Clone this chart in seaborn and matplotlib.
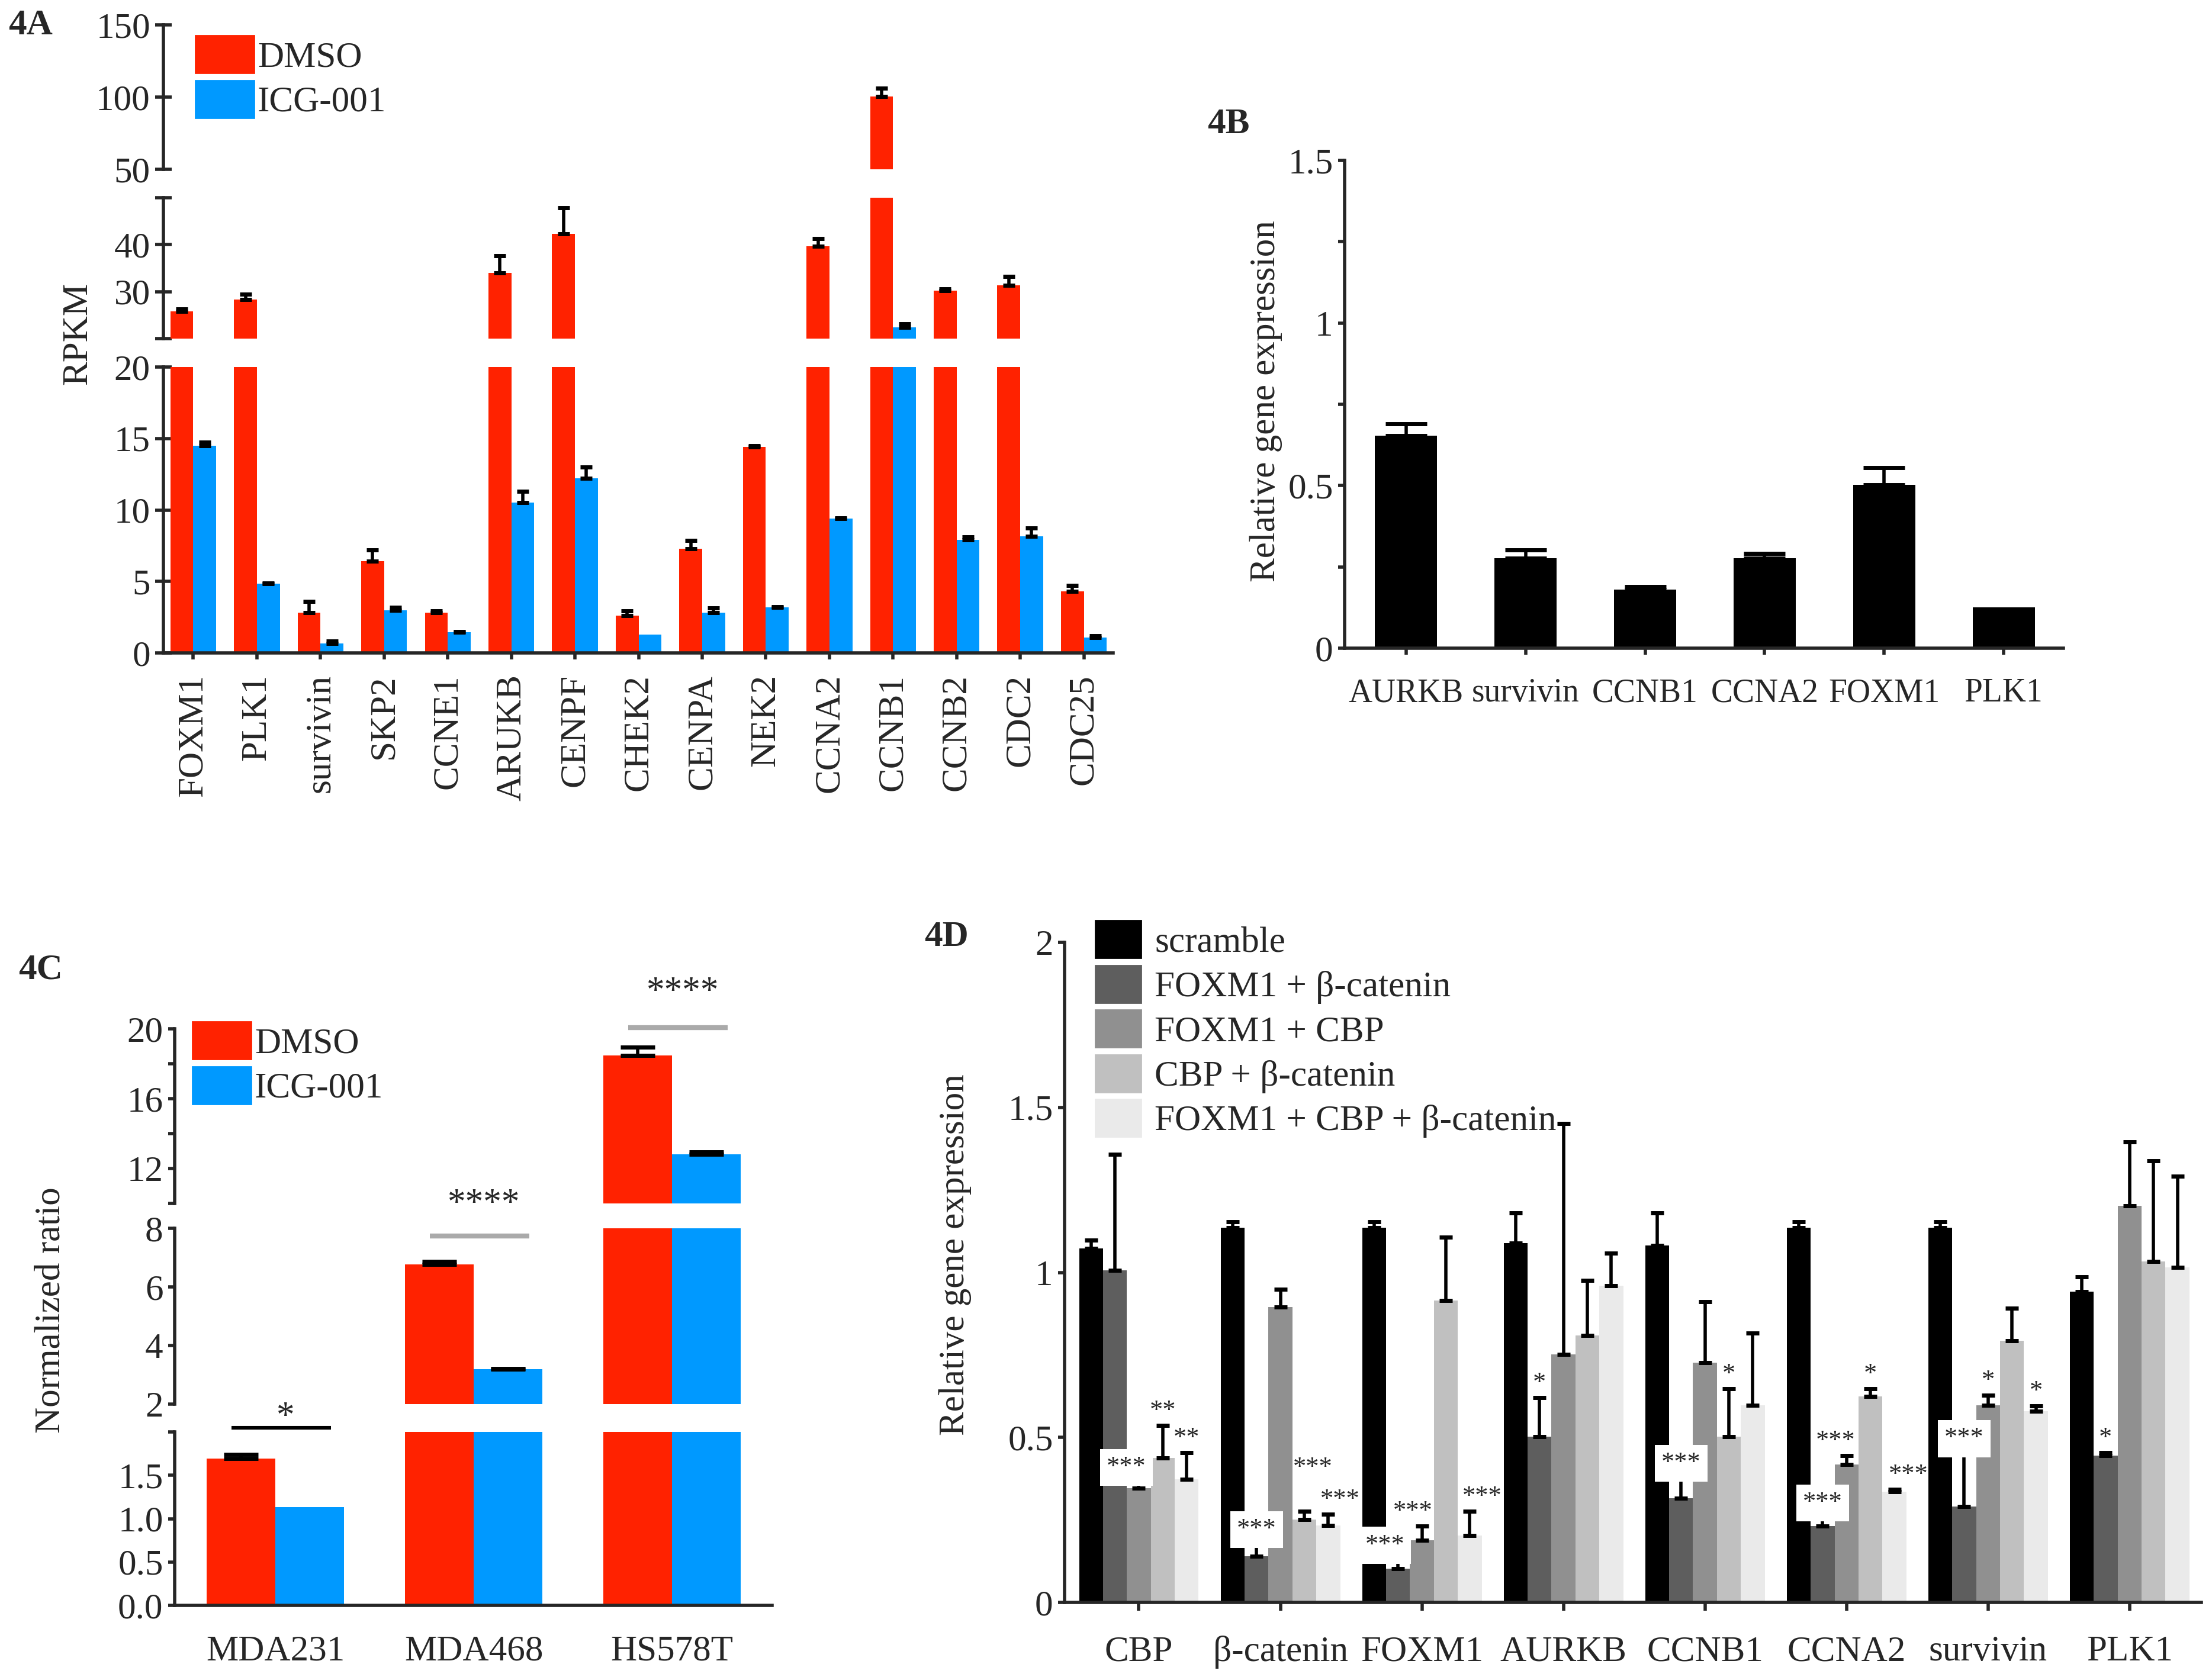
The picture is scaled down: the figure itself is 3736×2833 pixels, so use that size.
"""
Figure 4 re-draw: RPKM (4A), relative expression (4B), normalized ratio (4C),
knockdown qPCR (4D)
"""
import numpy as np
import pandas as pd
import matplotlib
matplotlib.use("Agg")
import matplotlib.pyplot as plt
from matplotlib.patches import Patch
import seaborn as sns

# ---- 4A: RNA-seq RPKM ----
A_GENES = ["FOXM1", "PLK1", "survivin", "SKP2", "CCNE1", "ARUKB", "CENPF", "CHEK2",
           "CENPA", "NEK2", "CCNA2", "CCNB1", "CCNB2", "CDC2", "CDC25"]
A_DMSO = [25.8, 28.3, 2.8, 6.4, 2.8, 34.0, 42.3, 2.6, 7.3, 14.4, 39.7, 100.6, 30.2, 31.4, 4.3]
A_DMSO_ERR = [0.5, 1.1, 0.8, 0.8, 0.15, 3.6, 5.5, 0.35, 0.55, 0.1, 1.6, 5.5, 0.4, 1.8, 0.4]
A_ICG = [14.5, 4.85, 0.67, 3.0, 1.45, 10.5, 12.2, 1.3, 2.8, 3.2, 9.4, 22.4, 7.9, 8.15, 1.06]
A_ICG_ERR = [0.25, 0.05, 0.15, 0.2, 0.05, 0.8, 0.8, 0.0, 0.35, 0.05, 0.05, 0.7, 0.2, 0.6, 0.15]

# ---- 4B ----
B_GENES = ["AURKB", "survivin", "CCNB1", "CCNA2", "FOXM1", "PLK1"]
B_VALS = [0.653, 0.277, 0.181, 0.277, 0.503, 0.125]
B_ERR = [0.037, 0.025, 0.009, 0.015, 0.053, 0.0]

# ---- 4C ----
C_LINES = ["MDA231", "MDA468", "HS578T"]
C_DMSO = [1.69, 6.77, 18.47]
C_DMSO_ERR = [0.05, 0.09, 0.47]
C_ICG = [1.13, 3.19, 12.81]
C_ICG_ERR = [0.0, 0.03, 0.14]
C_SIG = ["*", "****", "****"]

# ---- 4D ----
D_GENES = ["CBP", "β-catenin", "FOXM1", "AURKB", "CCNB1", "CCNA2", "survivin", "PLK1"]
D_SERIES = ["scramble", "FOXM1 + β-catenin", "FOXM1 + CBP", "CBP + β-catenin",
            "FOXM1 + CBP + β-catenin"]
D_SCRAMBLE = [1.073, 1.136, 1.136, 1.088, 1.081, 1.136, 1.136, 0.942]
D_SCRAMBLE_ERR = [0.025, 0.018, 0.018, 0.092, 0.099, 0.018, 0.018, 0.044]
D_FB = [1.006, 0.140, 0.102, 0.503, 0.316, 0.232, 0.290, 0.445]
D_FB_ERR = [0.351, 0.038, 0.028, 0.117, 0.062, 0.027, 0.163, 0.009]
D_FC = [0.346, 0.895, 0.188, 0.752, 0.727, 0.418, 0.598, 1.201]
D_FC_ERR = [0.02, 0.053, 0.044, 0.699, 0.185, 0.027, 0.030, 0.194]
D_CB = [0.438, 0.252, 0.915, 0.809, 0.503, 0.625, 0.793, 1.034]
D_CB_ERR = [0.099, 0.025, 0.192, 0.167, 0.145, 0.023, 0.099, 0.304]
D_ALL = [0.373, 0.233, 0.203, 0.960, 0.598, 0.335, 0.579, 1.015]
D_ALL_ERR = [0.080, 0.034, 0.074, 0.099, 0.218, 0.008, 0.016, 0.276]
# (gene index, series index, label)
D_STARS = [(0, 2, "***"), (0, 3, "**"), (0, 4, "**"),
           (1, 1, "***"), (1, 3, "***"), (1, 4, "***"),
           (2, 1, "***"), (2, 2, "***"), (2, 4, "***"),
           (3, 1, "*"), (4, 1, "***"), (4, 3, "*"),
           (5, 1, "***"), (5, 2, "***"), (5, 3, "*"), (5, 4, "***"),
           (6, 1, "***"), (6, 2, "*"), (6, 4, "*"), (7, 1, "*")]

RED = "#FF2200"
BLUE = "#0099FF"
GRAYS = ["#000000", "#5E5E5E", "#909090", "#C0C0C0", "#EAEAEA"]
FS = 22

# star label nudges (x in category units, y above cap)
STAR_DX = {(0, 2): -0.088, (1, 3): 0.06, (1, 4): 0.085, (2, 1): -0.093,
           (2, 2): -0.064, (2, 4): 0.088, (5, 2): -0.076, (5, 4): 0.1}
STAR_DY = {(1, 3): 0.13}
BOXED = {(0, 2), (1, 1), (2, 1), (4, 1), (5, 1), (6, 1)}

sns.set_style("ticks")
plt.rcParams["font.family"] = ["Liberation Serif", "DejaVu Serif"]
plt.rcParams["font.size"] = FS
plt.rcParams["axes.linewidth"] = 2


def errbars(ax, containers, errs, capsize, lw=2):
    for cont, err in zip(containers, errs):
        xs = np.array([p.get_x() + p.get_width() / 2 for p in cont])
        hs = np.array([p.get_height() for p in cont])
        err = np.array(err)
        m = err > 0
        ax.errorbar(xs[m], hs[m], yerr=[np.zeros(m.sum()), err[m]], fmt="none",
                    ecolor="black", elinewidth=lw, capsize=capsize, capthick=lw + 0.5)


def pair_bars(ax, cats, v1, e1, v2, e2, width, capsize):
    df = pd.DataFrame({"cat": cats * 2, "val": v1 + v2,
                       "grp": ["DMSO"] * len(cats) + ["ICG-001"] * len(cats)})
    sns.barplot(data=df, x="cat", y="val", hue="grp", hue_order=["DMSO", "ICG-001"],
                palette=[RED, BLUE], width=width, saturation=1, errorbar=None,
                legend=False, linewidth=0, ax=ax)
    errbars(ax, ax.containers[:2], [e1, e2], capsize)
    ax.set_xlabel("")
    ax.set_ylabel("")


def upper_segment(ax):
    sns.despine(ax=ax, bottom=True)
    ax.tick_params(axis="x", bottom=False, labelbottom=False)
    ax.patch.set_visible(False)


def legend(handles, anchor, hlen, pad):
    fig.legend(handles=handles, loc="upper left", bbox_to_anchor=anchor, frameon=False,
               borderpad=0, borderaxespad=0, handlelength=hlen, handleheight=1.21,
               handletextpad=pad, labelspacing=0.17, fontsize=FS)


def fx(px):
    return px / 3736


def fy(py):
    return 1 - py / 2833


fig = plt.figure(figsize=(18.68, 14.165), dpi=200)

# ================= 4A =================
a_left, a_w = fx(276), fx(1880) - fx(276)
a_bot = fig.add_axes([a_left, fy(1103), a_w, fy(620) - fy(1103)])
a_mid = fig.add_axes([a_left, fy(572), a_w, fy(334) - fy(572)])
a_top = fig.add_axes([a_left, fy(286), a_w, fy(42) - fy(286)])
for ax, lim, ticks, labels in [
        (a_bot, (0, 20), [0, 5, 10, 15, 20], ["0", "5", "10", "15", "20"]),
        (a_mid, (20, 50), [20, 30, 40, 50], ["", "30", "40", ""]),
        (a_top, (50, 150), [50, 100, 150], ["50", "100", "150"])]:
    pair_bars(ax, A_GENES, A_DMSO, A_DMSO_ERR, A_ICG, A_ICG_ERR, 0.72, 3.7)
    ax.set_ylim(*lim)
    ax.set_xlim(-0.47, 14.46)
    ax.set_yticks(ticks)
    ax.set_yticklabels(labels)
    ax.tick_params(axis="y", direction="inout", length=10, width=2, pad=3, labelsize=FS)
for ax in (a_mid, a_top):
    upper_segment(ax)
sns.despine(ax=a_bot)
a_bot.tick_params(axis="x", length=4, width=2, pad=9, labelsize=FS, labelrotation=90)
fig.text(fx(131), fy(563), "RPKM", rotation=90, ha="center", va="center", fontsize=FS)
fig.text(fx(52), fy(43), "4A", ha="center", va="center", fontsize=FS, fontweight="bold")
legend([Patch(color=RED, label="DMSO"), Patch(color=BLUE, label="ICG-001")],
       (fx(330), fy(60)), 1.62, 0.1)

# ================= 4B =================
b_ax = fig.add_axes([fx(2271), fy(1095), fx(3485) - fx(2271), fy(271) - fy(1095)])
sns.barplot(x=B_GENES, y=B_VALS, color="black", width=0.52, saturation=1,
            errorbar=None, linewidth=0, ax=b_ax)
errbars(b_ax, b_ax.containers[:1], [B_ERR], 12.5)
b_ax.set_xlim(-0.515, 5.5)
b_ax.set_ylim(0, 1.5)
b_ax.set_yticks(np.arange(0, 1.51, 0.25))
b_ax.set_yticklabels(["0", "", "0.5", "", "1", "", "1.5"])
b_ax.tick_params(axis="y", length=4, width=2, pad=3, labelsize=FS)
b_ax.tick_params(axis="x", length=4, width=2, pad=14, labelsize=20)
sns.despine(ax=b_ax)
fig.text(fx(2138), fy(678), "Relative gene expression", rotation=90, ha="center",
         va="center", fontsize=FS)
fig.text(fx(2075), fy(210), "4B", ha="center", va="center", fontsize=FS, fontweight="bold")

# ================= 4C =================
c_left, c_w = fx(295), fx(1304) - fx(295)
c_bot = fig.add_axes([c_left, fy(2712), c_w, fy(2419) - fy(2712)])
c_mid = fig.add_axes([c_left, fy(2372), c_w, fy(2075) - fy(2372)])
c_top = fig.add_axes([c_left, fy(2033), c_w, fy(1738) - fy(2033)])
for ax, lim, ticks, labels in [
        (c_bot, (0, 2), [0, 0.5, 1, 1.5, 2], ["0.0", "0.5", "1.0", "1.5", ""]),
        (c_mid, (2, 8), [2, 4, 6, 8], ["2", "4", "6", "8"]),
        (c_top, (10, 20), [10, 12, 14, 16, 18, 20], ["", "12", "", "16", "", "20"])]:
    pair_bars(ax, C_LINES, C_DMSO, C_DMSO_ERR, C_ICG, C_ICG_ERR, 0.694, 10.4)
    ax.set_ylim(*lim)
    ax.set_xlim(-0.507, 2.504)
    ax.set_yticks(ticks)
    ax.set_yticklabels(labels)
    ax.tick_params(axis="y", length=4, width=2, pad=3, labelsize=FS)
for ax in (c_mid, c_top):
    upper_segment(ax)
sns.despine(ax=c_bot)
c_bot.tick_params(axis="x", length=0, pad=18, labelsize=FS)
# significance bars
sig_axes = [c_bot, c_mid, c_top]
sig_line_y = [2.05, 7.73, 20.08]
sig_text_y = [2.17, 8.83, 22.1]
sig_color = ["black", "#AAAAAA", "#AAAAAA"]
sig_lw = [2.2, 3, 3]
for i, lab in enumerate(C_SIG):
    ax = sig_axes[i]
    ax.plot([i - 0.22, i + 0.28], [sig_line_y[i]] * 2, color=sig_color[i], lw=sig_lw[i],
            clip_on=False, solid_capstyle="butt", zorder=6)
    ax.text(i + 0.05, sig_text_y[i], lab, ha="center", va="center", fontsize=FS,
            clip_on=False, zorder=6)
fig.text(fx(86), fy(2213), "Normalized ratio", rotation=90, ha="center", va="center",
         fontsize=FS)
fig.text(fx(69), fy(1638), "4C", ha="center", va="center", fontsize=FS, fontweight="bold")
legend([Patch(color=RED, label="DMSO"), Patch(color=BLUE, label="ICG-001")],
       (fx(325), fy(1726)), 1.62, 0.1)

# ================= 4D =================
d_ax = fig.add_axes([fx(1798), fy(2707), fx(3718) - fx(1798), fy(1592) - fy(2707)])
d_vals = [D_SCRAMBLE, D_FB, D_FC, D_CB, D_ALL]
d_errs = [D_SCRAMBLE_ERR, D_FB_ERR, D_FC_ERR, D_CB_ERR, D_ALL_ERR]
d_df = pd.DataFrame({"gene": D_GENES * len(D_SERIES),
                     "val": sum(d_vals, []),
                     "series": sum([[s] * len(D_GENES) for s in D_SERIES], [])})
sns.barplot(data=d_df, x="gene", y="val", hue="series", hue_order=D_SERIES,
            palette=GRAYS, width=0.845, saturation=1, errorbar=None, legend=False,
            linewidth=0, ax=d_ax)
d_conts = list(d_ax.containers[:5])
errbars(d_ax, d_conts, d_errs, 3.8)
for g, s, lab in D_STARS:
    p = d_conts[s][g]
    x = p.get_x() + p.get_width() / 2 + STAR_DX.get((g, s), 0)
    y = p.get_height() + d_errs[s][g] + STAR_DY.get((g, s), 0.043)
    kw = {}
    if (g, s) in BOXED:
        kw["bbox"] = dict(facecolor="white", edgecolor="none", pad=4)
    d_ax.text(x, y, lab, ha="center", va="center", fontsize=16, zorder=5, **kw)
d_ax.set_xlim(-0.525, 7.507)
d_ax.set_ylim(0, 2)
d_ax.set_yticks([0, 0.5, 1, 1.5, 2])
d_ax.set_yticklabels(["0", "0.5", "1", "1.5", "2"])
d_ax.set_xlabel("")
d_ax.set_ylabel("")
d_ax.tick_params(axis="y", length=4, width=2, pad=3, labelsize=FS)
d_ax.tick_params(axis="x", length=5, width=2, pad=15, labelsize=FS)
sns.despine(ax=d_ax)
fig.text(fx(1613), fy(2120), "Relative gene expression", rotation=90, ha="center",
         va="center", fontsize=FS)
fig.text(fx(1599), fy(1583), "4D", ha="center", va="center", fontsize=FS, fontweight="bold")
legend([Patch(color=c, label=s) for c, s in zip(GRAYS, D_SERIES)],
       (fx(1850), fy(1555)), 1.26, 0.38)

fig.savefig("out.png", dpi=200, facecolor="white")
